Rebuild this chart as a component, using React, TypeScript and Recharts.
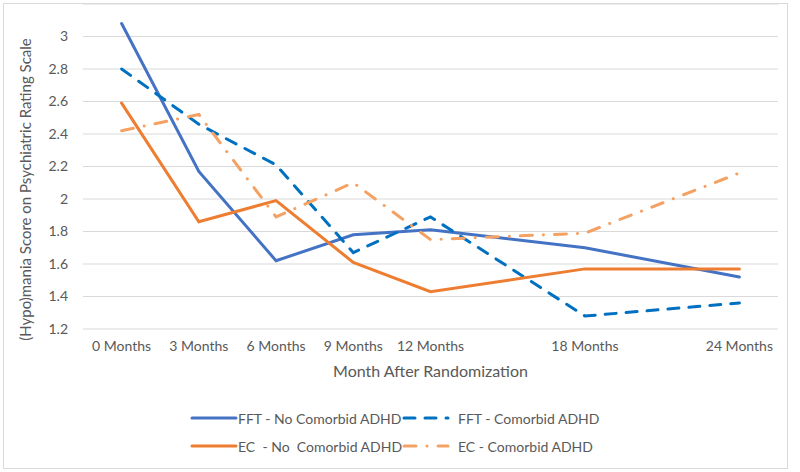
import React from 'react'
import { LineChart, Line, XAxis, YAxis, CartesianGrid, Legend } from 'recharts'

const months = [0, 3, 6, 9, 12, 18, 24]
const fftNoAdhd = [3.08, 2.17, 1.62, 1.78, 1.81, 1.7, 1.52]
const fftAdhd = [2.8, 2.46, 2.21, 1.67, 1.89, 1.28, 1.36]
const ecNoAdhd = [2.59, 1.86, 1.99, 1.61, 1.43, 1.57, 1.57]
const ecAdhd = [2.42, 2.52, 1.89, 2.1, 1.75, 1.79, 2.16]
const yTicks = [1.2, 1.4, 1.6, 1.8, 2, 2.2, 2.4, 2.6, 2.8, 3]

const data = months.map((m, i) => ({
    month: m,
    fftNo: fftNoAdhd[i],
    fftYes: fftAdhd[i],
    ecNo: ecNoAdhd[i],
    ecYes: ecAdhd[i],
}))

const FONT = 'Lato, "Open Sans", sans-serif'
const TEXT = '#595959'

const series = [
    { key: 'fftNo', name: 'FFT - No Comorbid ADHD', color: '#4472C4', dash: undefined },
    { key: 'fftYes', name: 'FFT - Comorbid ADHD', color: '#0070C0', dash: '11 10' },
    { key: 'ecNo', name: 'EC  - No  Comorbid ADHD', color: '#ED7D31', dash: undefined },
    { key: 'ecYes', name: 'EC - Comorbid ADHD', color: '#F4A164', dash: '12 11 0.1 11' },
]

function LegendItem({ s, left }: { s: (typeof series)[number]; left: number }) {
    return (
        <div style={{ position: 'absolute', left, top: 0, display: 'flex', alignItems: 'center', height: 28 }}>
            <svg width={48} height={10}>
                <line
                    x1={2}
                    x2={46}
                    y1={5}
                    y2={5}
                    stroke={s.color}
                    strokeWidth={3}
                    strokeDasharray={s.dash}
                    strokeLinecap="round"
                />
            </svg>
            <span style={{ marginLeft: s.dash ? 8 : 0, whiteSpace: 'pre' }}>{s.name}</span>
        </div>
    )
}

function ChartLegend() {
    return (
        <div style={{ position: 'relative', height: 70, width: 800, fontFamily: FONT, fontSize: 14, color: TEXT }}>
            <div style={{ position: 'absolute', top: 2, left: 0, width: 800, height: 28 }}>
                <LegendItem s={series[0]} left={190} />
                <LegendItem s={series[1]} left={402} />
            </div>
            <div style={{ position: 'absolute', top: 30, left: 0, width: 800, height: 28 }}>
                <LegendItem s={series[2]} left={190} />
                <LegendItem s={series[3]} left={402} />
            </div>
        </div>
    )
}

export default function App() {
    return (
        <div style={{ position: 'absolute', left: 0, top: 0, width: 800, height: 472, background: '#fff' }}>
            <div
                style={{
                    position: 'absolute',
                    left: 3,
                    top: 3,
                    width: 783,
                    height: 464,
                    border: '1px solid #D9D9D9',
                }}
            />
            <LineChart
                width={800}
                height={472}
                data={data}
                margin={{ top: 4, right: 22, left: 0, bottom: 0 }}
                style={{ position: 'absolute', left: 0, top: 0 }}
            >
                <CartesianGrid vertical={false} stroke="#D9D9D9" strokeWidth={1} />
                <XAxis
                    dataKey="month"
                    type="number"
                    domain={[-1.5, 25.5]}
                    ticks={months}
                    tickFormatter={(v: number) => `${v} Months`}
                    axisLine={false}
                    tickLine={false}
                    tickSize={0}
                    tickMargin={12}
                    height={73}
                    interval={0}
                    tick={{ fill: TEXT, fontSize: 14, fontFamily: FONT }}
                    label={{
                        content: ({ viewBox }: any) => (
                            <text
                                x={viewBox.x + viewBox.width / 2}
                                y={viewBox.y + 44}
                                textAnchor="middle"
                                dominantBaseline="middle"
                                fill={TEXT}
                                fontSize={16}
                                fontFamily={FONT}
                            >
                                Month After Randomization
                            </text>
                        ),
                    }}
                />
                <YAxis
                    domain={[1.2, 3.2]}
                    ticks={yTicks}
                    allowDataOverflow
                    axisLine={false}
                    tickLine={false}
                    tickSize={0}
                    tickMargin={15}
                    width={83}
                    tick={{ fill: TEXT, fontSize: 14, fontFamily: FONT }}
                    label={{
                        content: ({ viewBox }: any) => {
                            const cx = 27
                            const cy = viewBox.y + viewBox.height / 2 + 23
                            return (
                                <text
                                    x={cx}
                                    y={cy}
                                    transform={`rotate(-90 ${cx} ${cy})`}
                                    textAnchor="middle"
                                    dominantBaseline="middle"
                                    fill={TEXT}
                                    fontSize={15}
                                    fontFamily={FONT}
                                >
                                    (Hypo)mania Score on Psychiatric Rating Scale
                                </text>
                            )
                        },
                    }}
                />
                <Legend
                    verticalAlign="bottom"
                    content={() => <ChartLegend />}
                    wrapperStyle={{ left: 0, width: 800 }}
                />
                {series.map((s) => (
                    <Line
                        key={s.key}
                        type="linear"
                        dataKey={s.key}
                        name={s.name}
                        stroke={s.color}
                        strokeWidth={3}
                        strokeDasharray={s.dash}
                        strokeLinecap="round"
                        dot={false}
                        activeDot={false}
                        isAnimationActive={false}
                    />
                ))}
            </LineChart>
        </div>
    )
}
